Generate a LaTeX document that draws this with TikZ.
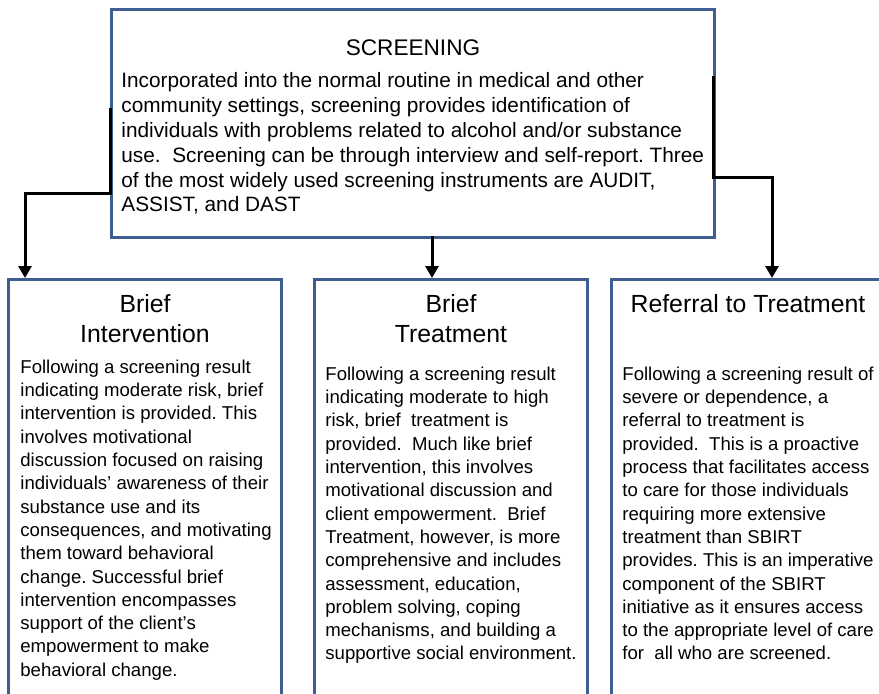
\documentclass[tikz,border=0pt]{standalone}
\usepackage{fontspec}
\setmainfont{Liberation Sans}
\usepackage{xcolor}
\usetikzlibrary{arrows.meta,positioning}
\definecolor{boxblue}{RGB}{62,94,145}
\frenchspacing
\tikzset{
bluebox/.style={rectangle, draw=boxblue,fill=none,line width=1.5pt, inner sep=0pt, anchor=north west},
topboxv1/.style={bluebox, minimum width= 301.5pt, minimum height = 114pt},
lowboxv1/.style={bluebox, minimum width= 136.5pt, minimum height = 212pt},
headtext/.style={inner sep=0pt, align=center, font=\fontsize{12.4}{15}\selectfont},
toptext/.style={inner sep=0pt, align=left, anchor=north west, font=\fontsize{10.4}{12.4}\selectfont},
lowtext/.style={inner sep=0pt, align=left, anchor=north west, font=\fontsize{9.3}{11.65}\selectfont},
arrowline/.style={draw=black, line width=1.5pt, -{Triangle[width=6.5pt,length=6pt]}},
}
\begin{document}
\begin{tikzpicture}[x=0.5pt,y=-0.5pt]
    \useasboundingbox (0,0) rectangle (879,693);
    \clip (0,0) rectangle (879,693);
    \node[topboxv1] at (110,8) (scr) {};
    \node[lowboxv1] at (7,278) (bi) {};
    \node[lowboxv1] at (313,278) (bt) {};
    \node[lowboxv1] at (610,278) (rt) {};
    \node[headtext, font=\fontsize{11.3}{14}\selectfont, below=15.5pt of scr.north] (scrhead) {SCREENING};
    \node[toptext] at (121,72.5) (scrtext) {Incorporated into the normal routine in medical and other\\
    community settings, screening provides identification of\\
    individuals with problems related to alcohol and/or substance\\
    use.\ \ Screening can be through interview and self-report. Three\\
    of the most widely used screening instruments are AUDIT,\\
    ASSIST, and DAST};
    \node[headtext, below=8pt of bi.north] (bihead) {Brief\\Intervention};
    \node[lowtext] at (20,359.5) (bitext) {Following a screening result\\
    indicating moderate risk, brief\\
    intervention is provided. This\\
    involves motivational\\
    discussion focused on raising\\
    individuals' awareness of their\\
    substance use and its\\
    consequences, and motivating\\
    them toward behavioral\\
    change. Successful brief\\
    intervention encompasses\\
    support of the client's\\
    empowerment to make\\
    behavioral change.};
    \node[headtext, below=8pt of bt.north] (bthead) {Brief\\Treatment};
    \node[lowtext] at (325,366.5) (bttext) {Following a screening result\\
    indicating moderate to high\\
    risk, brief\ \ treatment is\\
    provided.\ \ Much like brief\\
    intervention, this involves\\
    motivational discussion and\\
    client empowerment.\ \ Brief\\
    Treatment, however, is more\\
    comprehensive and includes\\
    assessment, education,\\
    problem solving, coping\\
    mechanisms, and building a\\
    supportive social environment.};
    \node[headtext, below=8pt of rt.north] (rthead) {Referral to Treatment};
    \node[lowtext] at (622,366.5) (rttext) {Following a screening result of\\
    severe or dependence, a\\
    referral to treatment is\\
    provided.\ \ This is a proactive\\
    process that facilitates access\\
    to care for those individuals\\
    requiring more extensive\\
    treatment than SBIRT\\
    provides. This is an imperative\\
    component of the SBIRT\\
    initiative as it ensures access\\
    to the appropriate level of care\\
    for\ \ all who are screened.};
    \coordinate (lstart) at (110,108);
    \coordinate (lbend) at (110,193);
    \coordinate (lend) at (25,278);
    \coordinate (mstart) at (432,236);
    \coordinate (mend) at (432,278);
    \coordinate (rstart) at (713,76);
    \coordinate (rbend) at (713,177);
    \coordinate (rend) at (772,278);
    \draw[arrowline] (lstart) -- (lbend) -| (lend);
    \draw[arrowline] (mstart) -- (mend);
    \draw[arrowline] (rstart) -- (rbend) -| (rend);
\end{tikzpicture}
\end{document}
